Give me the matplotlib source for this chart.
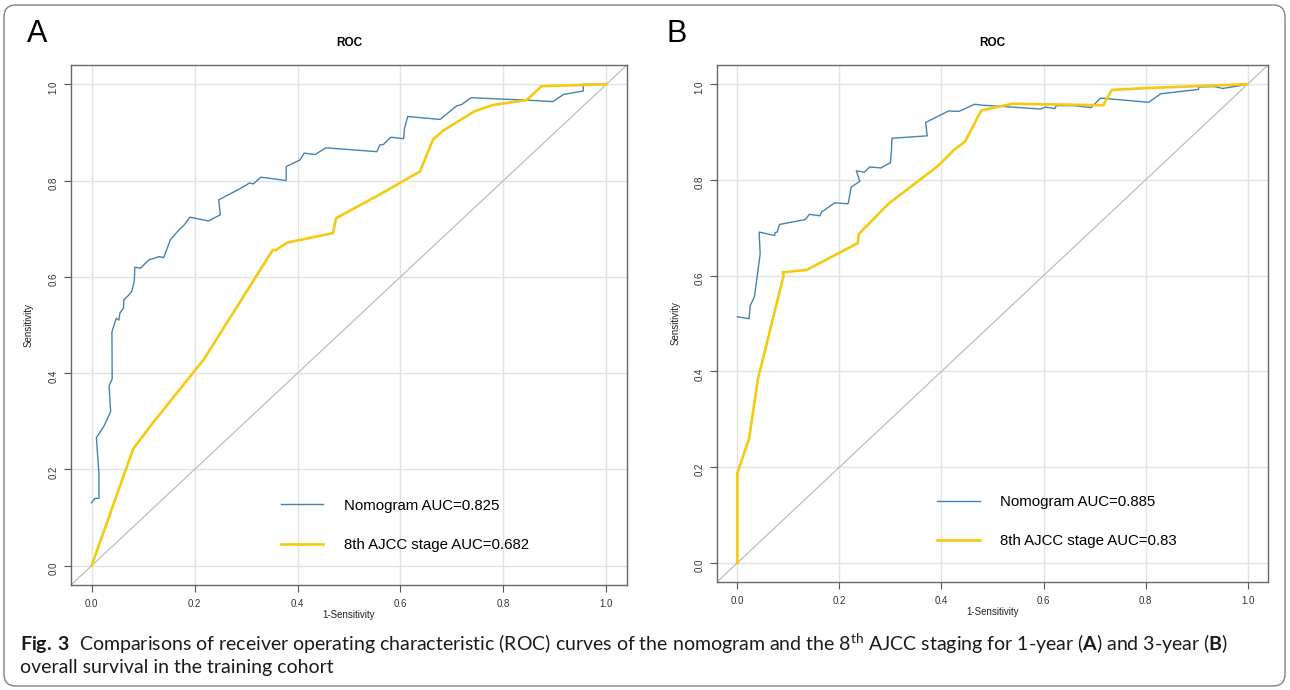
import matplotlib
matplotlib.use('Agg')
import matplotlib.pyplot as plt
from matplotlib.patches import FancyBboxPatch
from matplotlib.transforms import IdentityTransform

# panel A, 1-year
a_nomo_fpr = [0.0, 0.006, 0.0144, 0.0144, 0.0093, 0.024, 0.037, 0.034, 0.040, 0.0395, 0.048, 0.053,
              0.055, 0.062, 0.0625, 0.073, 0.078, 0.083, 0.084, 0.095, 0.111, 0.131, 0.140, 0.153,
              0.170, 0.180, 0.191, 0.227, 0.250, 0.247, 0.288, 0.307, 0.314, 0.329, 0.378, 0.378,
              0.405, 0.413, 0.434, 0.455, 0.554, 0.560, 0.567, 0.581, 0.606, 0.608, 0.614, 0.677,
              0.709, 0.719, 0.737, 0.845, 0.896, 0.917, 0.955, 0.955, 1.0]
a_nomo_tpr = [0.131, 0.140, 0.140, 0.190, 0.266, 0.290, 0.320, 0.374, 0.388, 0.486, 0.514, 0.510,
              0.525, 0.535, 0.552, 0.563, 0.570, 0.592, 0.620, 0.618, 0.635, 0.642, 0.640, 0.677,
              0.698, 0.708, 0.724, 0.716, 0.729, 0.760, 0.783, 0.795, 0.793, 0.807, 0.800, 0.829,
              0.843, 0.857, 0.854, 0.868, 0.860, 0.874, 0.875, 0.890, 0.887, 0.909, 0.933, 0.927,
              0.955, 0.958, 0.972, 0.967, 0.964, 0.979, 0.986, 1.0, 1.0]
a_ajcc_fpr = [0.0, 0.081, 0.117, 0.2175, 0.243, 0.352, 0.357, 0.380, 0.469, 0.475, 0.553, 0.638,
              0.663, 0.682, 0.744, 0.780, 0.845, 0.874, 1.0]
a_ajcc_tpr = [0.0, 0.243, 0.294, 0.428, 0.471, 0.656, 0.655, 0.671, 0.691, 0.722, 0.767, 0.819,
              0.885, 0.903, 0.944, 0.957, 0.967, 0.996, 1.0]

# panel B, 3-year
b_nomo_fpr = [0.0, 0.023, 0.025, 0.0334, 0.0446, 0.0426, 0.0728, 0.074, 0.078, 0.0826, 0.133, 0.141,
              0.162, 0.165, 0.191, 0.217, 0.223, 0.240, 0.233, 0.249, 0.259, 0.281, 0.300, 0.302,
              0.303, 0.372, 0.369, 0.414, 0.434, 0.465, 0.480, 0.525, 0.594, 0.604, 0.622, 0.625,
              0.660, 0.693, 0.712, 0.806, 0.830, 0.904, 0.904, 0.935, 0.951, 0.980, 1.0]
b_nomo_tpr = [0.514, 0.510, 0.537, 0.556, 0.645, 0.691, 0.684, 0.690, 0.691, 0.707, 0.717, 0.728,
              0.725, 0.733, 0.752, 0.750, 0.785, 0.797, 0.819, 0.816, 0.827, 0.825, 0.836, 0.862,
              0.887, 0.892, 0.920, 0.944, 0.943, 0.958, 0.956, 0.953, 0.948, 0.952, 0.949, 0.955,
              0.955, 0.951, 0.971, 0.962, 0.980, 0.989, 0.994, 0.995, 0.991, 0.996, 1.0]
b_ajcc_fpr = [0.0, 0.0, 0.023, 0.040, 0.0905, 0.089, 0.136, 0.236, 0.238, 0.296, 0.393, 0.424,
              0.446, 0.478, 0.539, 0.717, 0.734, 0.807, 1.0]
b_ajcc_tpr = [0.0, 0.188, 0.260, 0.383, 0.600, 0.607, 0.612, 0.668, 0.687, 0.750, 0.829, 0.862,
              0.880, 0.945, 0.959, 0.956, 0.988, 0.992, 1.0]

panels = [
    ('A', a_nomo_fpr, a_nomo_tpr, a_ajcc_fpr, a_ajcc_tpr, 'Nomogram AUC=0.825', '8th AJCC stage AUC=0.682'),
    ('B', b_nomo_fpr, b_nomo_tpr, b_ajcc_fpr, b_ajcc_tpr, 'Nomogram AUC=0.885', '8th AJCC stage AUC=0.83'),
]
ticks = [0.0, 0.2, 0.4, 0.6, 0.8, 1.0]
tick_labels = ['0.0', '0.2', '0.4', '0.6', '0.8', '1.0']

plt.rcParams['font.family'] = ['Liberation Sans', 'DejaVu Sans']
plt.rcParams['mathtext.fontset'] = 'custom'
plt.rcParams['mathtext.rm'] = 'Lato'
plt.rcParams['mathtext.bf'] = 'Lato:bold'

fig = plt.figure(figsize=(12.9, 6.9), dpi=100)

axes_rects = [(71/1290, 105/690, 556/1290, 520/690),
              (717/1290, 108/690, 551/1290, 517/690)]
letter_x = [37, 677]
leg_anchor = [(0.367, 0.084), (0.392, 0.086)]

nomo_col = '#4682b0'
ajcc_col = '#f5ca12'

for i, (letter, nf, nt, af, at, lab1, lab2) in enumerate(panels):
    ax = fig.add_axes(axes_rects[i])
    ax.set_xlim(-0.04, 1.04)
    ax.set_ylim(-0.04, 1.04)
    ax.grid(True, color='#e2e2e2', linewidth=1.0)
    ax.set_axisbelow(True)
    ax.axline((0, 0), (1, 1), color='#bdbdbd', linewidth=0.9, zorder=2)
    ax.plot(nf, nt, color=nomo_col, linewidth=1.0, label=lab1, zorder=3)
    ax.plot(af, at, color=ajcc_col, linewidth=1.9, label=lab2, zorder=3)

    ax.set_xticks(ticks)
    ax.set_xticklabels(tick_labels)
    ax.set_yticks(ticks)
    ax.set_yticklabels(tick_labels)
    ax.tick_params(axis='both', labelsize=7, colors='#555555', labelcolor='#333333',
                   length=5, width=0.8, pad=5)
    ax.tick_params(axis='y', labelrotation=90, pad=4)
    for s in ax.spines.values():
        s.set_color('#666666')
        s.set_linewidth(1.0)

    ax.set_title('ROC', fontsize=8.5, fontweight='bold', pad=14)
    ax.set_xlabel('1-Sensitivity', fontsize=7, color='#222222')
    ax.set_ylabel('Sensitivity', fontsize=7, color='#222222')
    ax.xaxis.set_label_coords(0.5, -0.048)
    ax.yaxis.set_label_coords(-0.067, 0.5)

    ax.legend(loc='center left', bbox_to_anchor=leg_anchor[i], bbox_transform=ax.transData,
              frameon=False, fontsize=10.8, handlelength=2.85, handletextpad=1.35,
              labelspacing=1.7, borderpad=0, borderaxespad=0)

    fig.text(letter_x[i] / 1290, 1 - 34 / 690, letter, fontsize=22, ha='center', va='center')

caption1 = (r'$\mathbf{Fig.\,3}$  Comparisons of receiver operating characteristic (ROC) curves of the '
            r'nomogram and the 8$^{\mathrm{th}}$ AJCC staging for 1-year ($\mathbf{A}$) and 3-year ($\mathbf{B}$)')
caption2 = 'overall survival in the training cohort'
fig.text(20 / 1290, 1 - 644 / 690, caption1, fontsize=14, family='Lato', ha='left', va='center', color='#1a1a1a')
fig.text(20 / 1290, 1 - 668 / 690, caption2, fontsize=14, family='Lato', ha='left', va='center', color='#1a1a1a')

border = FancyBboxPatch((4, 4), 1281, 681, boxstyle='round,pad=0,rounding_size=12',
                        transform=IdentityTransform(), fill=False, edgecolor='#808080',
                        linewidth=1.0)
fig.patches.append(border)

fig.savefig('out.png', dpi=100)
